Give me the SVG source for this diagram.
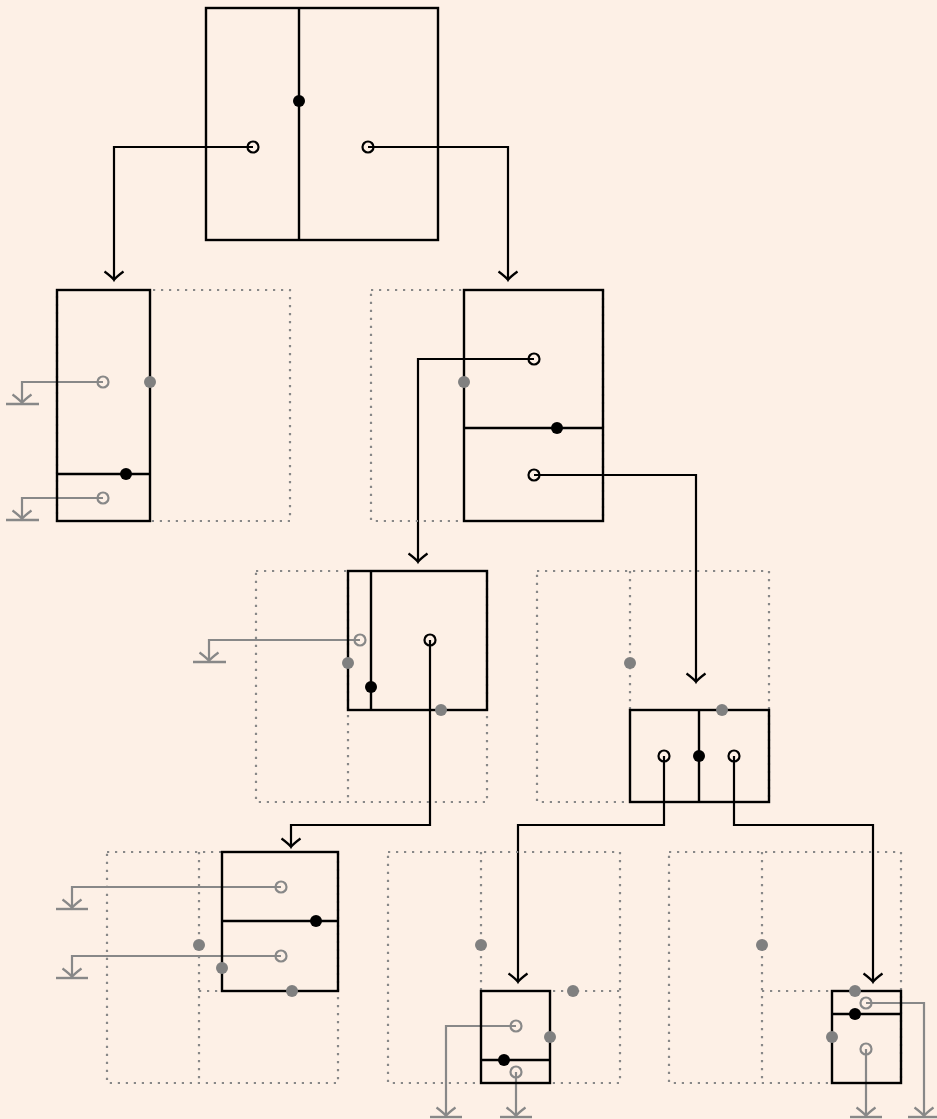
<svg xmlns="http://www.w3.org/2000/svg" width="937" height="1119" viewBox="0 0 937 1119">
<defs>
<style>
.bg{fill:#fdf0e6}
.dot{fill:none;stroke:#888;stroke-width:2.2;stroke-dasharray:2.2 5.8}
.box{fill:none;stroke:#000;stroke-width:2.4}
.ln{fill:none;stroke:#000;stroke-width:2.4}
.cb{fill:none;stroke:#000;stroke-width:2.2}
.cg{fill:none;stroke:#888;stroke-width:2.2}
.wb{fill:none;stroke:#000;stroke-width:2.2}
.wg{fill:none;stroke:#888;stroke-width:2.2}
.fb{fill:#000}
.fg{fill:#808080}
.bar{stroke:#888;stroke-width:2.4}
</style>
<marker id="ab" markerUnits="userSpaceOnUse" markerWidth="30" markerHeight="30" viewBox="-15 -15 30 30" refX="0" refY="0" orient="auto" overflow="visible"><path d="M -8.5 -9.5 Q -2.5 -1.5 0 0 Q -2.5 1.5 -8.5 9.5" fill="none" stroke="#000" stroke-width="2.2"/></marker>
<marker id="ag" markerUnits="userSpaceOnUse" markerWidth="30" markerHeight="30" viewBox="-15 -15 30 30" refX="0" refY="0" orient="auto" overflow="visible"><path d="M -8.5 -9.5 Q -2.5 -1.5 0 0 Q -2.5 1.5 -8.5 9.5" fill="none" stroke="#888" stroke-width="2.2"/></marker>
</defs>
<rect class="bg" x="0" y="0" width="937" height="1119"/>

<g id="connectors">
<path class="cb" d="M253 147 H114 V280" marker-end="url(#ab)"/>
<path class="cb" d="M368 147 H508 V280" marker-end="url(#ab)"/>
<path class="cb" d="M534 359 H418 V562" marker-end="url(#ab)"/>
<path class="cb" d="M534 475 H696 V682" marker-end="url(#ab)"/>
<path class="cb" d="M430 640 V825 H291 V847" marker-end="url(#ab)"/>
<path class="cb" d="M664 756 V825 H518 V982" marker-end="url(#ab)"/>
<path class="cb" d="M734 756 V825 H873 V982" marker-end="url(#ab)"/>
<!-- grounds -->
<path class="cg" d="M103 382 H22 V403" marker-end="url(#ag)"/>
<line class="bar" x1="6" y1="404" x2="39" y2="404"/>
<path class="cg" d="M103 498 H22 V519" marker-end="url(#ag)"/>
<line class="bar" x1="6" y1="520" x2="39" y2="520"/>
<path class="cg" d="M360 640 H209 V661" marker-end="url(#ag)"/>
<line class="bar" x1="193" y1="662" x2="226" y2="662"/>
<path class="cg" d="M281 887 H72 V908" marker-end="url(#ag)"/>
<line class="bar" x1="56" y1="909" x2="88" y2="909"/>
<path class="cg" d="M281 956 H72 V977" marker-end="url(#ag)"/>
<line class="bar" x1="56" y1="978" x2="88" y2="978"/>
<path class="cg" d="M516 1026 H446 V1116" marker-end="url(#ag)"/>
<line class="bar" x1="430" y1="1117" x2="462" y2="1117"/>
<path class="cg" d="M516 1072 V1116" marker-end="url(#ag)"/>
<line class="bar" x1="500" y1="1117" x2="532" y2="1117"/>
<path class="cg" d="M866 1003 H924 V1116" marker-end="url(#ag)"/>
<line class="bar" x1="908" y1="1117" x2="940" y2="1117"/>
<path class="cg" d="M866 1049 V1116" marker-end="url(#ag)"/>
<line class="bar" x1="850" y1="1117" x2="882" y2="1117"/>
</g>

<g id="node-root">
<rect class="box" x="206" y="8" width="232" height="232"/>
<line class="ln" x1="299" y1="8" x2="299" y2="240"/>
<circle class="fb" cx="299" cy="101" r="6"/>
<circle class="wb" cx="253" cy="147" r="5.5"/>
<circle class="wb" cx="368" cy="147" r="5.5"/>
</g>

<g id="node-l2-left">
<rect class="dot" x="57" y="290" width="233" height="231"/>
<rect class="box" x="57" y="290" width="93" height="231"/>
<line class="ln" x1="57" y1="474" x2="150" y2="474"/>
<circle class="fb" cx="126" cy="474" r="6"/>
<circle class="wg" cx="103" cy="382" r="5.5"/>
<circle class="wg" cx="103" cy="498" r="5.5"/>
<circle class="fg" cx="150" cy="382" r="6"/>
</g>

<g id="node-l2-right">
<rect class="dot" x="371" y="290" width="232" height="231"/>
<rect class="box" x="464" y="290" width="139" height="231"/>
<line class="ln" x1="464" y1="428" x2="603" y2="428"/>
<circle class="fb" cx="557" cy="428" r="6"/>
<circle class="wb" cx="534" cy="359" r="5.5"/>
<circle class="wb" cx="534" cy="475" r="5.5"/>
<circle class="fg" cx="464" cy="382" r="6"/>
</g>

<g id="node-l3-left">
<rect class="dot" x="256" y="571" width="231" height="231"/>
<line class="dot" x1="348" y1="571" x2="348" y2="802"/>
<rect class="box" x="348" y="571" width="139" height="139"/>
<line class="ln" x1="371" y1="571" x2="371" y2="710"/>
<circle class="fb" cx="371" cy="687" r="6"/>
<circle class="wg" cx="360" cy="640" r="5.5"/>
<circle class="wb" cx="430" cy="640" r="5.5"/>
<circle class="fg" cx="348" cy="663" r="6"/>
<circle class="fg" cx="441" cy="710" r="6"/>
</g>

<g id="node-l3-right">
<rect class="dot" x="537" y="571" width="232" height="231"/>
<line class="dot" x1="630" y1="571" x2="630" y2="710"/>
<rect class="box" x="630" y="710" width="139" height="92"/>
<line class="ln" x1="699" y1="710" x2="699" y2="802"/>
<circle class="fb" cx="699" cy="756" r="6"/>
<circle class="wb" cx="664" cy="756" r="5.5"/>
<circle class="wb" cx="734" cy="756" r="5.5"/>
<circle class="fg" cx="630" cy="663" r="6"/>
<circle class="fg" cx="722" cy="710" r="6"/>
</g>

<g id="node-l4-left">
<rect class="dot" x="107" y="852" width="231" height="231"/>
<line class="dot" x1="199" y1="852" x2="199" y2="1083"/>
<line class="dot" x1="199" y1="991" x2="338" y2="991"/>
<rect class="box" x="222" y="852" width="116" height="139"/>
<line class="ln" x1="222" y1="921" x2="338" y2="921"/>
<circle class="fb" cx="316" cy="921" r="6"/>
<circle class="wg" cx="281" cy="887" r="5.5"/>
<circle class="wg" cx="281" cy="956" r="5.5"/>
<circle class="fg" cx="199" cy="945" r="6"/>
<circle class="fg" cx="222" cy="968" r="6"/>
<circle class="fg" cx="292" cy="991" r="6"/>
</g>

<g id="node-l4-mid">
<rect class="dot" x="388" y="852" width="232" height="231"/>
<line class="dot" x1="481" y1="852" x2="481" y2="991"/>
<line class="dot" x1="481" y1="991" x2="620" y2="991"/>
<rect class="box" x="481" y="991" width="69" height="92"/>
<line class="ln" x1="481" y1="1060" x2="550" y2="1060"/>
<circle class="fb" cx="504" cy="1060" r="6"/>
<circle class="wg" cx="516" cy="1026" r="5.5"/>
<circle class="wg" cx="516" cy="1072" r="5.5"/>
<circle class="fg" cx="481" cy="945" r="6"/>
<circle class="fg" cx="573" cy="991" r="6"/>
<circle class="fg" cx="550" cy="1037" r="6"/>
</g>

<g id="node-l4-right">
<rect class="dot" x="669" y="852" width="232" height="231"/>
<line class="dot" x1="762" y1="852" x2="762" y2="1083"/>
<line class="dot" x1="762" y1="991" x2="832" y2="991"/>
<rect class="box" x="832" y="991" width="69" height="92"/>
<line class="ln" x1="832" y1="1014" x2="901" y2="1014"/>
<circle class="fb" cx="855" cy="1014" r="6"/>
<circle class="wg" cx="866" cy="1003" r="5.5"/>
<circle class="wg" cx="866" cy="1049" r="5.5"/>
<circle class="fg" cx="762" cy="945" r="6"/>
<circle class="fg" cx="855" cy="991" r="6"/>
<circle class="fg" cx="832" cy="1037" r="6"/>
</g>
</svg>
